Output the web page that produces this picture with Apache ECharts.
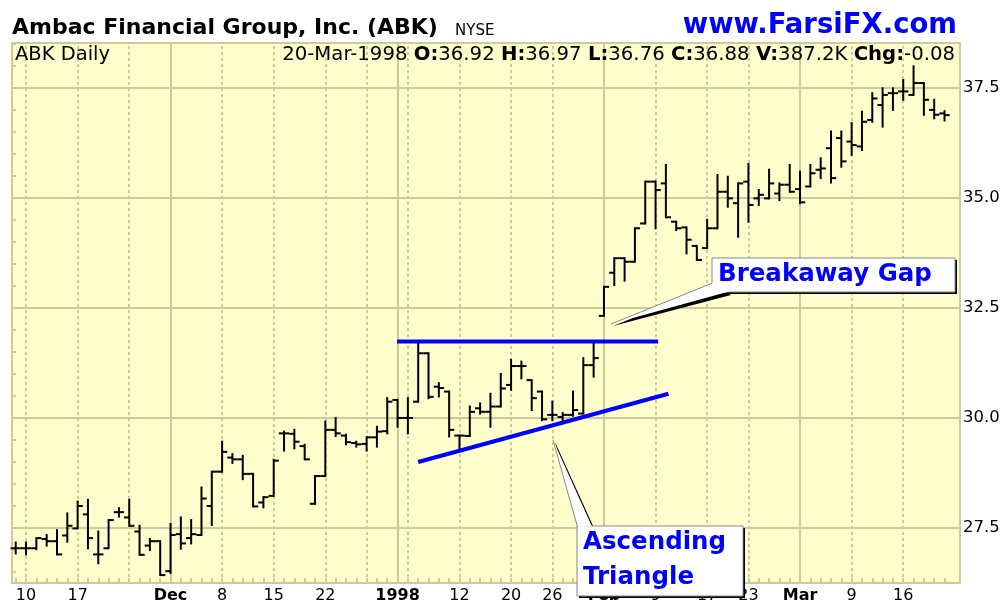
<!DOCTYPE html>
<html>
<head>
<meta charset="utf-8">
<script src="https://cdn.jsdelivr.net/npm/echarts@6/dist/echarts.min.js"></script>
<style>
html, body { margin: 0; padding: 0; background: #fff; }
#chart { width: 1007px; height: 605px; }
</style>
</head>
<body>
<div id="chart"></div>
<script>
// trading days, Nov 7 1997 .. Mar 20 1998
const dates = [
  'Nov 7', 'Nov 10', 'Nov 11', 'Nov 12', 'Nov 13', 'Nov 14', 'Nov 17', 'Nov 18', 'Nov 19', 'Nov 20', 'Nov 21', 'Nov 24', 'Nov 25', 'Nov 26', 'Nov 28',
  'Dec 1', 'Dec 2', 'Dec 3', 'Dec 4', 'Dec 5', 'Dec 8', 'Dec 9', 'Dec 10', 'Dec 11', 'Dec 12', 'Dec 15', 'Dec 16', 'Dec 17', 'Dec 18', 'Dec 19',
  'Dec 22', 'Dec 23', 'Dec 24', 'Dec 26', 'Dec 29', 'Dec 30', 'Dec 31',
  'Jan 2', 'Jan 5', 'Jan 6', 'Jan 7', 'Jan 8', 'Jan 9', 'Jan 12', 'Jan 13', 'Jan 14', 'Jan 15', 'Jan 16', 'Jan 20', 'Jan 21', 'Jan 22', 'Jan 23',
  'Jan 26', 'Jan 27', 'Jan 28', 'Jan 29', 'Jan 30',
  'Feb 2', 'Feb 3', 'Feb 4', 'Feb 5', 'Feb 6', 'Feb 9', 'Feb 10', 'Feb 11', 'Feb 12', 'Feb 13', 'Feb 17', 'Feb 18', 'Feb 19', 'Feb 20',
  'Feb 23', 'Feb 24', 'Feb 25', 'Feb 26', 'Feb 27',
  'Mar 2', 'Mar 3', 'Mar 4', 'Mar 5', 'Mar 6', 'Mar 9', 'Mar 10', 'Mar 11', 'Mar 12', 'Mar 13', 'Mar 16', 'Mar 17', 'Mar 18', 'Mar 19', 'Mar 20'
]
const open = [
  27.04, 27.04, 27.04, 27.25, 27.20, 27.33, 27.49, 27.81, 26.90, 27.04, 27.86, 27.74, 27.42, 27.10, 27.20,
  26.52, 27.36, 27.27, 27.34, 28.00, 28.78, 29.10, 29.06, 28.73, 28.08, 28.23, 29.65, 29.64, 29.36, 28.05,
  28.68, 29.73, 29.60, 29.43, 29.41, 29.56, 29.70,
  30.41, 30.00, 30.37, 31.47, 30.71, 30.60, 29.60, 29.59, 30.22, 30.14, 30.26, 30.75, 31.18, 30.86, 30.60,
  30.07, 30.02, 30.07, 30.10, 31.20,
  32.32, 33.30, 33.63, 33.55, 34.42, 35.37, 35.33, 34.46, 34.33, 33.91, 33.86, 34.31, 35.14, 34.88,
  35.37, 34.99, 34.99, 35.10, 35.30,
  35.20, 35.26, 35.64, 36.13, 36.36, 36.28, 36.17, 36.77, 37.11, 37.38, 37.42, 37.34, 37.61, 37.00, 36.92
]
const high = [
  27.17, 27.17, 27.27, 27.34, 27.45, 27.83, 28.10, 28.14, 27.42, 27.68, 27.95, 28.14, 27.55, 27.25, 27.20,
  27.59, 27.74, 27.68, 28.42, 28.78, 29.46, 29.18, 29.14, 28.73, 28.20, 29.05, 29.69, 29.73, 29.39, 28.68,
  29.92, 30.00, 29.62, 29.46, 29.56, 29.80, 30.45,
  30.41, 30.45, 31.73, 31.47, 30.79, 30.60, 29.60, 30.26, 30.33, 30.55, 31.00, 31.32, 31.28, 30.86, 30.60,
  30.37, 30.11, 30.60, 31.36, 31.73,
  32.98, 33.63, 33.63, 34.31, 35.37, 35.37, 35.75, 34.46, 34.33, 33.91, 34.50, 35.52, 35.48, 35.33,
  35.77, 35.18, 35.64, 35.33, 35.75,
  35.60, 35.75, 35.90, 36.51, 36.51, 36.70, 36.96, 37.38, 37.49, 37.49, 37.68, 37.99, 37.61, 37.23, 36.97
]
const low = [
  26.92, 26.90, 27.02, 27.10, 26.90, 27.19, 27.49, 27.04, 26.70, 27.04, 27.76, 27.55, 26.89, 27.00, 26.43,
  26.48, 27.03, 27.15, 27.34, 27.57, 28.78, 28.98, 28.61, 27.99, 27.97, 28.23, 29.26, 29.31, 29.06, 28.05,
  28.68, 29.59, 29.40, 29.35, 29.26, 29.35, 29.65,
  29.80, 29.65, 30.37, 30.45, 30.49, 29.58, 29.31, 29.59, 30.10, 29.80, 30.26, 30.64, 30.90, 30.18, 29.95,
  29.95, 29.95, 30.05, 30.10, 30.94,
  32.32, 33.02, 33.12, 33.55, 34.42, 34.31, 34.56, 34.27, 33.74, 33.59, 33.86, 34.31, 34.80, 34.12,
  34.46, 34.84, 34.99, 34.95, 35.14,
  34.88, 35.26, 35.45, 35.35, 35.71, 35.98, 36.09, 36.73, 36.62, 37.00, 37.23, 37.34, 36.89, 36.81, 36.76
]
const close = [
  27.04, 27.04, 27.27, 27.20, 26.90, 27.55, 28.00, 27.27, 26.90, 27.68, 27.86, 27.55, 26.89, 27.20, 26.43,
  27.34, 27.15, 27.36, 28.17, 28.78, 29.23, 29.06, 28.73, 27.99, 28.20, 29.03, 29.65, 29.46, 29.06, 28.68,
  29.73, 29.65, 29.45, 29.40, 29.56, 29.69, 30.37,
  30.00, 30.00, 31.47, 30.48, 30.68, 29.73, 29.60, 30.14, 30.14, 30.26, 30.67, 31.18, 31.18, 30.45, 29.97,
  30.07, 30.07, 30.18, 31.20, 31.36,
  32.98, 33.63, 33.55, 34.31, 35.37, 35.18, 34.56, 34.31, 34.05, 33.59, 34.31, 35.14, 34.99, 35.33,
  34.84, 35.07, 35.33, 35.30, 35.14,
  34.90, 35.56, 35.67, 35.45, 35.83, 36.20, 36.73, 37.26, 37.34, 37.38, 37.42, 37.61, 37.23, 36.89, 36.88
]

const labelDates = ['Nov 10', 'Nov 17', 'Dec 1', 'Dec 8', 'Dec 15', 'Dec 22', 'Jan 2', 'Jan 12', 'Jan 20', 'Jan 26', 'Feb 2', 'Feb 9', 'Feb 17', 'Feb 23', 'Mar 2', 'Mar 9', 'Mar 16']
const labelTexts = ['10', '17', 'Dec', '8', '15', '22', '1998', '12', '20', '26', 'Feb', '9', '17', '23', 'Mar', '9', '16']
const boldLabels = ['Dec', '1998', 'Feb', 'Mar']
const monthLines = ['Dec 1', 'Jan 2', 'Feb 2', 'Mar 2']
const weekLines = ['Nov 10', 'Nov 17', 'Nov 24', 'Dec 8', 'Dec 15', 'Dec 22', 'Dec 29', 'Jan 5', 'Jan 12', 'Jan 20', 'Jan 26', 'Feb 9', 'Feb 17', 'Feb 23', 'Mar 9', 'Mar 16']
const priceLabels = [27.5, 30, 32.5, 35, 37.5]
const priceMinor = [26.5, 27, 27.5, 28, 28.5, 29, 29.5, 30, 30.5, 31, 31.5, 32, 32.5, 33, 33.5, 34, 34.5, 35, 35.5, 36, 36.5, 37, 37.5, 38, 38.5]

// blue pattern lines: [day index, price]
const resistanceLine = [[36.95, 31.74], [62.25, 31.74]]
const supportLine = [[39.0, 29.0], [63.25, 30.55]]

const gridColor = '#CBCB9C'
const fontName = '"DejaVu Sans", Verdana, sans-serif'

let idx = (d) => dates.indexOf(d)
let labelMap = {}
labelDates.forEach((d, i) => { labelMap[idx(d)] = labelTexts[i] })

let ohlc = dates.map((d, i) => [i, open[i], high[i], low[i], close[i]])

let gridMarks = []
monthLines.forEach(d => gridMarks.push({ xAxis: idx(d), lineStyle: { type: 'solid', color: gridColor, width: 2 } }))
weekLines.forEach(d => gridMarks.push({ xAxis: idx(d), lineStyle: { type: [3, 3], color: gridColor, width: 2 } }))
priceLabels.forEach(v => gridMarks.push({ yAxis: v, lineStyle: { type: 'solid', color: gridColor, width: 2 } }))

var myChart = echarts.init(document.getElementById('chart'))

const blue = '#0000FF'
let calloutText = { font: 'bold 24.5px ' + fontName, fill: blue }

let option = {
  animation: false,
  backgroundColor: '#fff',
  grid: {
    left: 12, right: 47, top: 43, bottom: 22,
    show: true,
    backgroundColor: '#FFFDCC',
    borderColor: gridColor,
    borderWidth: 2
  },
  xAxis: {
    type: 'value',
    min: -0.36,
    max: 91.5,
    axisLine: { show: false },
    splitLine: { show: false },
    axisTick: {
      show: true, inside: true, length: 5,
      customValues: dates.map((d, i) => i),
      lineStyle: { color: gridColor, width: 2 }
    },
    axisLabel: {
      customValues: labelDates.map(idx),
      margin: 5,
      color: '#000',
      fontFamily: fontName,
      fontSize: 16,
      formatter: (v) => {
        let t = labelMap[Math.round(v)] || ''
        return boldLabels.indexOf(t) >= 0 ? '{b|' + t + '}' : t
      },
      rich: { b: { fontWeight: 'bold', fontFamily: fontName, fontSize: 16, color: '#000' } }
    }
  },
  yAxis: [
    {
      type: 'value', position: 'right', min: 26.25, max: 38.52,
      axisLine: { show: false }, splitLine: { show: false },
      axisTick: { show: true, inside: true, length: 4, customValues: priceMinor, lineStyle: { color: gridColor, width: 2 } },
      axisLabel: { customValues: priceLabels, margin: 3, color: '#000', fontFamily: fontName, fontSize: 16.5, formatter: (v) => v.toFixed(1) }
    },
    {
      type: 'value', position: 'left', min: 26.25, max: 38.52,
      axisLine: { show: false }, splitLine: { show: false },
      axisTick: { show: true, inside: true, length: 4, customValues: priceMinor, lineStyle: { color: gridColor, width: 2 } },
      axisLabel: { show: false }
    }
  ],
  series: [
    {
      type: 'line',
      data: [],
      z: 1,
      silent: true,
      markLine: { z: 1, silent: true, symbol: ['none', 'none'], label: { show: false }, data: gridMarks }
    },
    {
      type: 'custom',
      z: 10,
      data: ohlc,
      encode: { x: 0, y: [1, 2, 3, 4] },
      renderItem: function (params, api) {
        let x = api.value(0)
        let o = api.coord([x, api.value(1)])
        let h = api.coord([x, api.value(2)])
        let l = api.coord([x, api.value(3)])
        let c = api.coord([x, api.value(4)])
        let w = api.size([1, 0])[0] * 0.5
        let st = { stroke: '#000', lineWidth: 2 }
        return {
          type: 'group',
          children: [
            { type: 'line', shape: { x1: h[0], y1: h[1] - 1, x2: l[0], y2: l[1] + 1 }, style: st },
            { type: 'line', shape: { x1: o[0] - w, y1: o[1], x2: o[0], y2: o[1] }, style: st },
            { type: 'line', shape: { x1: c[0], y1: c[1], x2: c[0] + w, y2: c[1] }, style: st }
          ]
        }
      }
    },
    {
      type: 'line', z: 12, data: resistanceLine, symbol: 'none',
      lineStyle: { color: blue, width: 4 }
    },
    {
      type: 'line', z: 12, data: supportLine, symbol: 'none',
      lineStyle: { color: blue, width: 4 }
    }
  ],
  graphic: [
    { type: 'text', x: 12, y: 28, z: 10, style: { text: 'Ambac Financial Group, Inc. (ABK)', font: 'bold 22px ' + fontName, fill: '#000', verticalAlign: 'middle' } },
    { type: 'text', x: 455, y: 31, z: 10, style: { text: 'NYSE', font: '15px ' + fontName, fill: '#000', verticalAlign: 'middle' } },
    { type: 'text', x: 957, y: 26, z: 10, style: { text: 'www.FarsiFX.com', font: 'bold 27.5px ' + fontName, fill: blue, align: 'right', verticalAlign: 'middle' } },
    { type: 'text', x: 15, y: 55, z: 10, style: { text: 'ABK Daily', font: '19.5px ' + fontName, fill: '#000', verticalAlign: 'middle' } },
    {
      type: 'text', x: 955, y: 55, z: 10,
      style: {
        text: '20-Mar-1998 {b|O:}36.92 {b|H:}36.97 {b|L:}36.76 {b|C:}36.88 {b|V:}387.2K {b|Chg:}-0.08',
        font: '19.7px ' + fontName, fill: '#000', align: 'right', verticalAlign: 'middle',
        rich: { b: { font: 'bold 19.7px ' + fontName, fill: '#000' } }
      }
    },
    // Breakaway Gap callout
    { type: 'polygon', z: 20, shape: { points: [[613, 326], [714, 285], [731, 295]] }, style: { fill: '#000' } },
    { type: 'rect', z: 20, shape: { x: 714, y: 260, width: 243, height: 34 }, style: { fill: '#000' } },
    { type: 'rect', z: 21, shape: { x: 712, y: 258, width: 243, height: 34 }, style: { fill: '#fff', stroke: '#888', lineWidth: 1 } },
    { type: 'polygon', z: 22, shape: { points: [[611, 324], [713, 282], [729, 291.5]] }, style: { fill: '#fff' } },
    { type: 'polyline', z: 22, shape: { points: [[611, 324], [712.5, 283]] }, style: { stroke: '#888', lineWidth: 1 } },
    { type: 'text', x: 718, y: 275, z: 23, style: Object.assign({ text: 'Breakaway Gap', verticalAlign: 'middle' }, calloutText) },
    // Ascending Triangle callout
    { type: 'polygon', z: 20, shape: { points: [[555, 442], [579, 532], [594, 528]] }, style: { fill: '#000' } },
    { type: 'rect', z: 20, shape: { x: 579, y: 528, width: 166, height: 70 }, style: { fill: '#000' } },
    { type: 'rect', z: 21, shape: { x: 577, y: 526, width: 166, height: 70 }, style: { fill: '#fff', stroke: '#888', lineWidth: 1 } },
    { type: 'polygon', z: 22, shape: { points: [[553, 440], [577.5, 527], [592, 526.5]] }, style: { fill: '#fff' } },
    { type: 'polyline', z: 22, shape: { points: [[553, 440], [577.5, 527]] }, style: { stroke: '#888', lineWidth: 1 } },
    { type: 'text', x: 583, y: 543, z: 23, style: Object.assign({ text: 'Ascending', verticalAlign: 'middle' }, calloutText) },
    { type: 'text', x: 583, y: 578, z: 23, style: Object.assign({ text: 'Triangle', verticalAlign: 'middle' }, calloutText) }
  ]
}
myChart.setOption(option)
</script>
</body>
</html>
